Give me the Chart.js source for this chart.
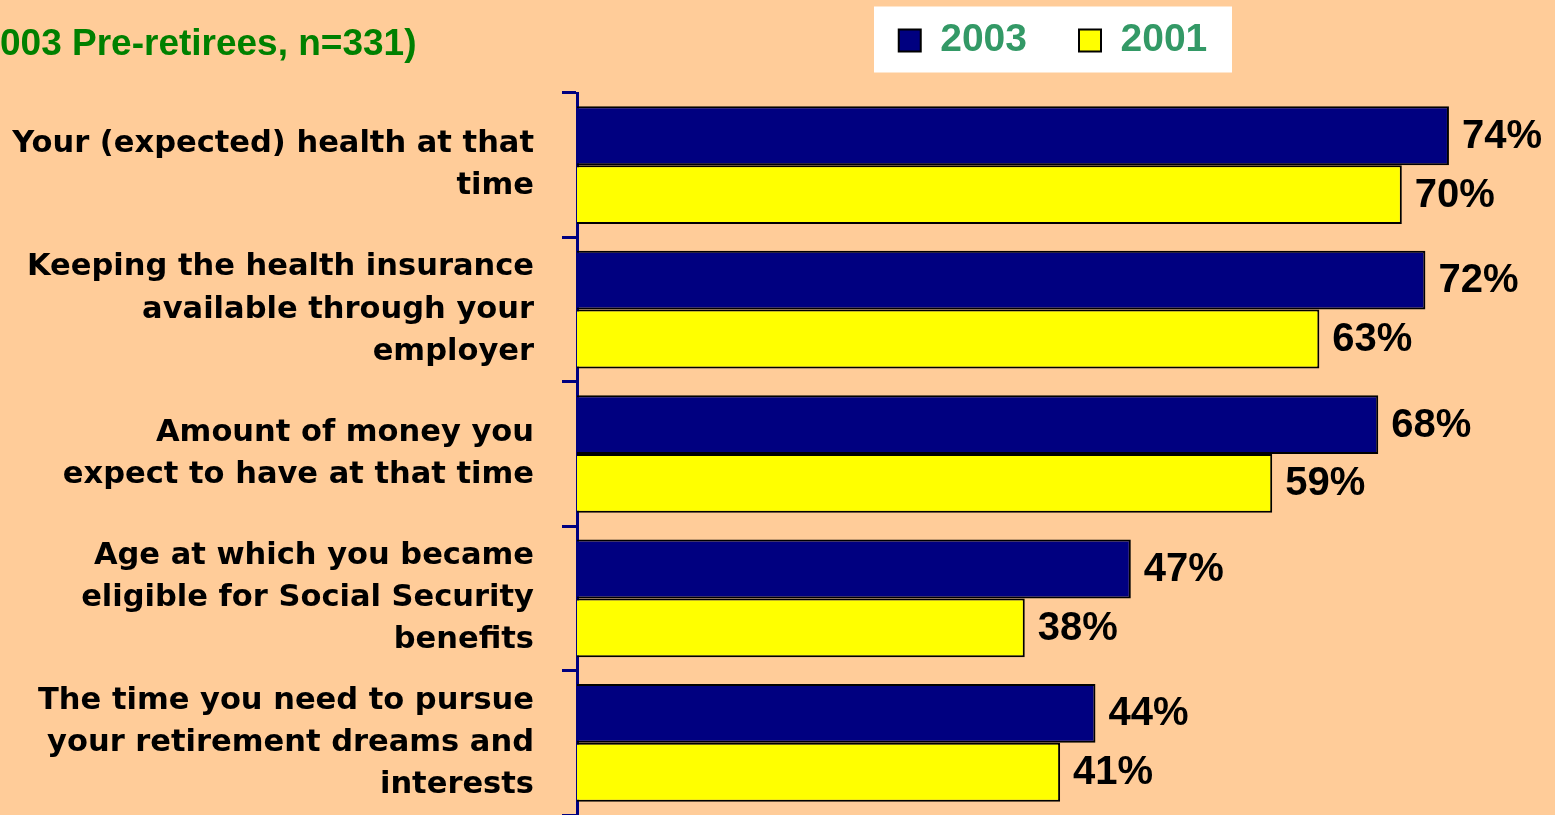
<!DOCTYPE html>
<html>
<head>
<meta charset="utf-8">
<title>Retirement timing factors</title>
<script src="https://cdn.jsdelivr.net/npm/chart.js@4.4.1/dist/chart.umd.min.js"></script>
<style>
  html, body { margin: 0; padding: 0; background: #FFCC99; overflow: hidden; }
  canvas { display: block; }
</style>
</head>
<body>
<canvas id="chart" width="1555" height="815"></canvas>
<script>
// data
const categories = [
  ['Your (expected) health at that', 'time'],
  ['Keeping the health insurance', 'available through your', 'employer'],
  ['Amount of money you', 'expect to have at that time'],
  ['Age at which you became', 'eligible for Social Security', 'benefits'],
  ['The time you need to pursue', 'your retirement dreams and', 'interests']
];
const seriesNames = ['2003', '2001'];
const values2003 = [74, 72, 68, 47, 44];
const values2001 = [70, 63, 59, 38, 41];
const titleText = '003 Pre-retirees, n=331)';

const labelFont = '"DejaVu Sans", sans-serif';
const arial = '"Liberation Sans", Arial, sans-serif';

// peach background + white legend panel, title in the corner
const backdrop = {
  id: 'backdrop',
  afterLayout(chart) {
    // nudge the legend a bit left, it sits left of the plot centre in the original
    if (chart.legend) {
      chart.legend.left -= 13;
      chart.legend.right -= 13;
    }
  },
  beforeDraw(chart) {
    const ctx = chart.ctx;
    ctx.save();
    ctx.fillStyle = '#FFCC99';
    ctx.fillRect(0, 0, chart.width, chart.height);
    const boxes = chart.legend && chart.legend.legendHitBoxes;
    if (boxes && boxes.length) {
      const first = boxes[0], last = boxes[boxes.length - 1];
      const cx = (first.left + last.left + last.width) / 2;
      const cy = first.top + first.height / 2;
      ctx.fillStyle = '#FFFFFF';
      ctx.fillRect(cx - 179, cy - 34, 358, 66);
    }
    ctx.restore();
  },
  afterDraw(chart) {
    const ctx = chart.ctx;
    ctx.save();
    ctx.font = 'bold 37px ' + arial;
    ctx.fillStyle = '#008000';
    ctx.textAlign = 'left';
    ctx.textBaseline = 'middle';
    ctx.fillText(titleText, 0, 45);
    ctx.restore();
  }
};

// percentage labels at the end of each bar
const valueLabels = {
  id: 'valueLabels',
  afterDatasetsDraw(chart) {
    const ctx = chart.ctx;
    ctx.save();
    ctx.font = 'bold 40px ' + arial;
    ctx.fillStyle = '#000';
    ctx.textAlign = 'left';
    ctx.textBaseline = 'middle';
    chart.data.datasets.forEach((ds, i) => {
      chart.getDatasetMeta(i).data.forEach((bar, j) => {
        ctx.fillText(ds.data[j] + '%', bar.x + 13, bar.y + 1);
      });
    });
    ctx.restore();
  }
};

new Chart(document.getElementById('chart'), {
  type: 'bar',
  data: {
    labels: categories,
    datasets: [
      { label: seriesNames[0], data: values2003, backgroundColor: '#000080', borderColor: '#000000', borderWidth: 2 },
      { label: seriesNames[1], data: values2001, backgroundColor: '#FFFF00', borderColor: '#000000', borderWidth: 2 }
    ]
  },
  options: {
    indexAxis: 'y',
    responsive: false,
    animation: false,
    events: [],
    layout: { padding: { top: -31, left: 0, right: 0, bottom: 0 } },
    datasets: { bar: { categoryPercentage: 0.815, barPercentage: 1.0 } },
    scales: {
      x: {
        position: 'top',
        min: 0,
        max: 83,
        grid: { display: false },
        border: { display: false },
        ticks: { display: false },
        afterFit: (s) => { s.height = 23; }
      },
      y: {
        grid: { display: true, drawOnChartArea: false, drawTicks: true, tickLength: 15, color: '#000080', lineWidth: 3, offset: true },
        border: { display: true, color: '#000080', width: 3 },
        ticks: {
          color: '#000000',
          padding: 28,
          font: { family: labelFont, weight: 'bold', size: 30.5, lineHeight: 1.38 }
        },
        afterFit: (s) => {
          s.width = 577;
          s.paddingTop = 0;
          s.paddingBottom = 0;
        }
      }
    },
    plugins: {
      title: { display: false },
      tooltip: { enabled: false },
      legend: {
        position: 'top',
        fullSize: false,
        labels: {
          boxWidth: 22,
          boxHeight: 22,
          padding: 52,
          color: '#339966',
          font: { family: arial, weight: 'bold', size: 39 }
        }
      }
    }
  },
  plugins: [backdrop, valueLabels]
});
</script>
</body>
</html>
